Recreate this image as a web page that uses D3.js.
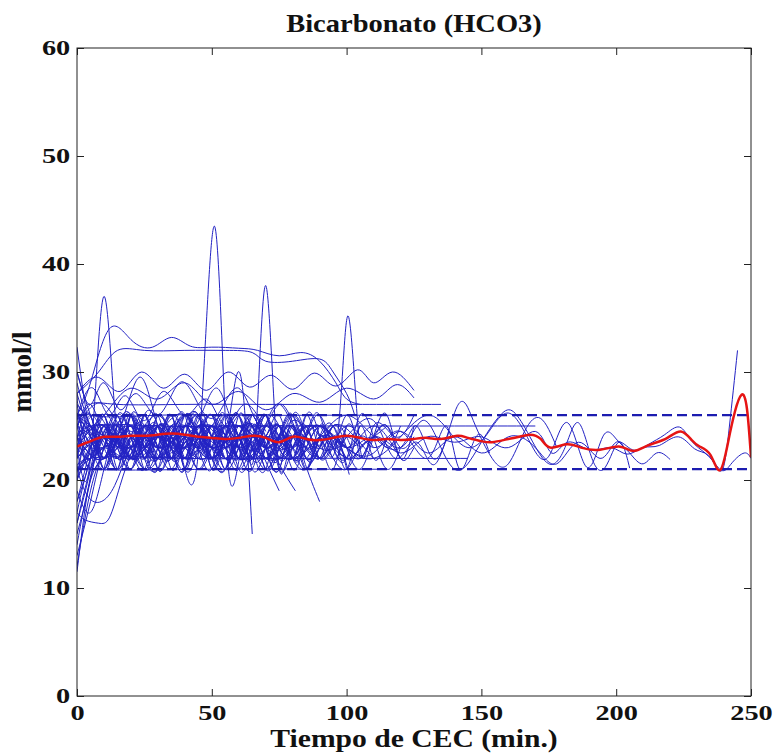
<!DOCTYPE html>
<html>
<head>
<meta charset="utf-8">
<script src="https://cdn.jsdelivr.net/npm/d3@7"></script>
<style>
  body { margin: 0; background: #fff; }
</style>
</head>
<body>
<div id="chart"></div>
<script>
// --- data ------------------------------------------------------------
var xTicks = [0, 50, 100, 150, 200, 250];
var yTicks = [0, 10, 20, 30, 40, 50, 60];
var titleText = 'Bicarbonato (HCO3)';
var xLabel = 'Tiempo de CEC (min.)';
var yLabel = 'mmol/l';

// patient curves sampled every 5 min (first value at t = 0)
var sampleStep = 5;
var bandCurves = [
  [20,23,25,22,24,26,23,22,25,24,22,24,26,23,24,25,22,23,25,24,23,24,25,24,22],
  [16,21,24,26,23,25,22,24,26,24,22,25,23,24,26,23,22,24,25,23,24],
  [24,22,25,23,21,24,26,22,23,25,24,21,23,25,22,24,26,23,24],
  [27,25,22,24,25,23,26,24,22,23,25,26,24,22,24,25,23,21,24,25,22,23,24,25],
  [12,19,23,25,22,24,23,25,24,22,23,26,24,22,23,25,24],
  [30,26,23,21,23,24,22,25,23,24,26,23,21,24,23,25,22,24,26,23,22,24,23],
  [22,25,21,24,26,23,22,25,24,21,23,25,24,22,23],
  [18,22,26,24,22,25,23,21,24,26,24,23,22,25,23,24,22,21,23,25],
  [25,24,23,26,24,22,25,24,23,25,22,24,25,23,22,24,26,24,23,25,24,22,24,23,25],
  [14,20,22,23,25,23,24,22,26,24,22,23,24,26,23,22,24,25],
  [28,24,22,25,23,21,24,22,25,23,24,22,24],
  [23,26,24,22,23,25,24,26,22,24,25,23,22,24,26,25,23,24,22,24,23,25],
  [21,23,25,24,22,26,23,24,22,25,23,21,24,25,23,24],
  [26,24,22,25,24,23,22,24,25,23,24,26,23,22,25,24,23,25,22,24,23,22,24,25,23,24],
  [19,17,21,24,22,25,23,22,24,23,25,22,24,23,21,23,24,22,23],
  [24,21,23,26,22,24,25,23,21,24,23,25,22,24],
  [29,25,24,22,24,23,25,24,22,25,23,24,22,23,25,24,23,22,24,23,22],
  [22,24,26,23,25,22,24,23,26,24,23,22,24,25,22,24,23],
  [17,22,24,23,21,24,25,22,24,23,25,24,21,23,24,26,22,23,25,24,23],
  [25,27,24,23,25,22,23,26,24,22,24,25,23,22,24,23,25,22,24],
  [13,18,23,24,22,23,25,24,22,24,26,23,24,22,25,23,24,25,22,23,24,23],
  [23,22,24,25,23,21,22,24,23,25,24,22,23,26,24,22,23,25,24,22,21,23,24,25,22,23],
  [22,26,21,25,22,26,21,24,26,22,25,21,26,23,21,25,22,26,24,21,25,23],
  [26,21,25,22,26,23,21,25,22,26,21,24,22,26,23,21,25,22,24],
  [15,20,24,21,26,22,25,21,24,26,22,25,21,23,26,22,24,21,25,23,22,26,24,21,23],
  [24,26,22,24,21,25,23,26,21,24,22,26,23,21,25,24,22],
  [20,25,22,26,24,21,23,26,22,25,21,24,26,22,23,25,21,24,26,22,25],
  [27,23,26,21,24,22,26,23,21,25,22,24,26,21,23,25,22,26,23,24,21,25,22,24],
  [21,24,22,25,26,22,21,24,26,23,21,25,24,22,26,21,23,25],
  [18,23,26,22,24,25,21,23,26,24,22,21,25,23,26,22,24],
  [25,22,24,21,26,24,22,25,21,23,26,22,24,25,21,23,26,24,22,25,23,21,24,26,22,25],
  [23,25,21,24,22,26,25,22,23,21,24,26,22,25,23,21,26,24],
  [16,21,25,23,26,21,24,22,25,26,22,21,24,26,23,22,25,21,24,23,26,22],
  [26,23,21,24,26,22,25,23,21,26,24,22,23,25,21,24,26,22,23,25,21]
];

// patient curves with irregular sample times: [minute, mmol/l]
var flatCurves = [
  [[0,25],[5,27],[15,27],[40,27],[70,27],[100,27],[120,27],[135,27]],
  [[0,28],[5,26],[30,26],[60,26],[90,26],[120,26]],
  [[0,23],[5,25],[30,25],[60,25],[100,25],[140,25],[170,25]],
  [[0,20],[5,22],[40,22],[80,22],[120,22],[145,22]],
  [[0,22],[5,21],[50,21],[90,21],[115,21]]
];

var peakCurves = [
  [[0,23],[5,22],[10,37],[15,24],[20,26],[25,23],[30,25],[35,22],[40,24],[45,26],[50,23],[55,24],[60,22],[65,24]],
  [[0,26],[5,29],[12,34],[20,33],[28,32.3],[35,33.2],[42,32.4],[50,32.3],[60,32.2],[67,32],[75,31.5],[83,31.8],[90,31],[96,29],[100,27.5],[105,27]],
  [[0,28],[8,30],[15,32],[25,32],[40,32],[55,32],[65,31.8],[70,31],[80,31],[90,31.2],[95,30],[100,28],[103,26]],
  [[0,22],[10,24],[20,23],[30,25],[38,23],[45,22.5],[51,43.5],[56,21.5],[62,24],[70,23],[78,25],[85,23],[92,24],[100,22]],
  [[0,24],[10,22],[20,25],[30,23],[40,26],[50,24],[57,22],[62,24],[66,23],[70,38],[74.5,22],[80,24],[88,23],[95,25],[103,24],[110,22]],
  [[0,21],[10,23],[20,22],[30,24],[40,22],[50,25],[60,23],[70,24],[80,22],[88,25],[96,23],[100.5,35.2],[105,23],[110,25],[118,24],[125,26]]
];

var lowCurves = [
  [[0,25],[10,27],[20,24],[30,26],[40,23],[50,25],[55,24],[59,29.5],[62,27],[65,15]],
  [[0,20],[8,24],[15,22],[25,25],[35,23],[45,24],[55,22],[62,25],[70,24],[75,21.5],[81,19]],
  [[0,26],[10,24],[20,26],[30,23],[40,25],[50,22],[60,26],[68,23],[75,19]],
  [[0,23],[10,25],[20,22],[30,24],[40,26],[50,23],[60,25],[70,22],[78,25],[84,22],[90,18]],
  [[0,11.5],[4,19],[8,23],[13,25],[18,22],[25,24],[32,22],[40,25],[50,23],[60,24]],
  [[0,17],[3,16.3],[8,16],[12,16.5],[16,19.5],[21,23],[28,25],[35,22],[45,24],[55,23],[65,25],[72,22]],
  [[0,21],[4,18.5],[9,18],[14,19.5],[19,22.5],[26,24],[35,22],[45,25],[55,23]],
  [[0,32.3],[3,27],[7,23],[12,25],[20,22],[30,24],[40,23],[50,25],[60,22],[70,24]],
  [[0,24],[10,22],[20,25],[30,23],[40,24],[50,22],[60,25],[70,23],[80,25],[90,22],[96,23.5],[101,20.5]]
];

var highCurves = [
  [[0,28],[8,29.5],[16,28.2],[24,30],[32,28.5],[40,29.8],[48,28.3],[56,30],[64,28.6],[72,29.7],[80,28.4],[88,29.9],[96,28.7],[104,30.2],[110,29],[117,30],[125,28.3]],
  [[0,24],[10,26],[20,28.5],[30,27.5],[40,29],[50,27],[60,28.2],[70,26.5],[80,28],[90,27.2],[100,28.5],[110,27.5],[118,28.8],[125,27.6]],
  [[0,24],[8,26],[15,24.5],[23,29.5],[30,25],[38,23],[46,26],[52,28.5],[58,25],[66,23],[74,27],[82,24],[90,22]],
  [[0,26],[6,28.5],[12,26],[18,27.8],[25,25.5],[32,28.2],[40,26],[48,27.5],[55,25],[62,27],[70,24.5]],
  [[0,30],[5,27],[10,29],[16,26.5],[22,28],[30,26],[38,29],[45,27],[52,26],[60,28.5],[68,25],[75,27],[82,24]]
];

var longCurves = [
  [[0,22],[10,24],[20,23],[30,25],[40,22],[50,24],[60,23],[70,25],[80,22],[90,24],[100,23],[110,22.5],[120,24.5],[130,22],[137,25],[142,21],[148,24],[153,22.5]],
  [[0,25],[10,23],[20,24.5],[30,22],[40,25],[50,23],[60,24],[70,22],[80,25.5],[90,23],[100,24],[110,25.5],[118,22],[126,23.5],[133,21.5],[141,26.8],[147,25.5],[154,22],[160,21.5],[166,24.5],[172,25.7],[178,23]],
  [[0,23],[10,25],[20,22],[30,24],[40,23],[50,26],[60,22],[70,24],[80,23],[90,25],[100,22],[110,24],[120,23],[128,25.5],[135,23],[142,20.9],[150,23.5],[157,26],[162,26.3],[168,24],[175,21.5],[181,23],[186,25.3],[191,22],[196,21.2],[201,23.5],[205,21.1]],
  [[0,24],[10,23],[20,25],[30,22],[40,24],[50,25],[60,23],[70,22],[80,24],[90,25],[100,23],[110,22],[120,24],[130,26],[138,24.5],[145,23],[152,24.2],[160,26.2],[168,23.5],[175,22.2],[182,25.3],[189,21.2],[195,24],[200,23.8],[205,22.5],[210,21.5],[215,22.5],[220,21.9]],
  [[0,24],[10,22],[20,25],[30,23],[40,24],[50,22],[60,25],[70,23],[80,24],[90,22],[100,25],[110,23],[120,24.5],[130,22.5],[140,24],[150,22.5],[160,24],[170,23],[178,21.5],[186,23.5],[194,22],[200,23.5],[206,22.8],[212,23.3],[218,24.2],[223.5,24.9],[228,23.6],[233,22.5],[236.5,21.5],[239.5,21],[242,25],[245,32]],
  [[0,21],[10,23],[20,24],[30,22],[40,25],[50,23],[60,24],[70,22],[80,23],[90,25],[100,23],[110,24],[120,22.5],[130,24],[140,23.5],[150,24],[160,23],[170,24.5],[176,22.5],[182,23.5],[190,22.8],[198,23],[204,22.4],[210,23],[216,23.2],[223,24],[229,22.9],[234,22.3],[239,20.9],[243,21.6],[247.5,22.5],[250,22]],
  [[0,26],[10,24],[20,23],[30,25],[40,22],[50,24],[60,25],[70,23],[80,22],[90,24],[100,26],[110,24],[120,23],[126,25],[132,22],[138,24.5]]
];

// mean curve (red)
var meanT = [0,3,6,10,15,20,25,30,35,40,45,50,55,60,65,70,75,80,85,90,95,100,105,110,115,120,125,130,135,141,145,150,154,160,164,168,172,175.5,181.5,187,194,201,206,210,214,219,224,228,231,235,238.5,241.5,244,246.5,248.5,250];
var meanV = [23.1,23.4,23.7,24.0,24.0,24.1,24.1,24.2,24.3,24.2,24.0,23.9,23.8,23.9,24.1,23.9,23.5,24.0,23.8,23.7,23.9,24.1,23.9,23.7,23.8,23.7,23.8,23.9,23.8,24.1,23.9,23.6,23.5,23.8,24.0,24.2,23.8,23.0,23.3,23.0,22.8,23.1,22.7,23.0,23.4,23.9,24.5,23.7,23.1,22.3,20.9,23.5,26.3,27.9,26.6,22.1];

// normal range (dashed)
var rangeLimits = [21, 26];
var rangeSpan = [0, 250];

// --- chart ------------------------------------------------------------
var width = 777, height = 756;
var plot = {left: 77, right: 751, top: 48, bottom: 696};
var digitStretch = 1.35; // tick digits in the picture are drawn wide
var labelStretch = 1.14;
var serif = '"Liberation Serif", "Times New Roman", serif';

var x = d3.scaleLinear().domain([0, 250]).range([plot.left, plot.right]);
var y = d3.scaleLinear().domain([0, 60]).range([plot.bottom, plot.top]);

var svg = d3.select('#chart').append('svg')
  .attr('width', width)
  .attr('height', height)
  .style('font-family', serif);

svg.append('defs').append('clipPath').attr('id', 'plotClip')
  .append('rect')
  .attr('x', plot.left).attr('y', plot.top)
  .attr('width', plot.right - plot.left)
  .attr('height', plot.bottom - plot.top);

var line = d3.line()
  .curve(d3.curveNatural)
  .x(function(d) { return x(d[0]); })
  .y(function(d) { return y(d[1]); });

var curves = bandCurves.map(function(vals) {
  return vals.map(function(v, i) { return [i * sampleStep, v]; });
}).concat(flatCurves, peakCurves, lowCurves, highCurves, longCurves);

var gData = svg.append('g').attr('clip-path', 'url(#plotClip)');

gData.append('g').classed('patients', true)
  .selectAll('path').data(curves)
  .enter().append('path')
  .attr('d', line)
  .attr('fill', 'none')
  .attr('stroke', '#2222c4')
  .attr('stroke-width', 1);

gData.append('g').classed('range', true)
  .selectAll('line').data(rangeLimits)
  .enter().append('line')
  .attr('x1', x(rangeSpan[0])).attr('x2', x(rangeSpan[1]))
  .attr('y1', function(d) { return y(d); })
  .attr('y2', function(d) { return y(d); })
  .attr('stroke', '#1c1cb0')
  .attr('stroke-width', 2.2)
  .attr('stroke-dasharray', '10,5');

var meanPts = meanT.map(function(t, i) { return [t, meanV[i]]; });
gData.append('path').datum(meanPts)
  .attr('d', line)
  .attr('fill', 'none')
  .attr('stroke', '#e61414')
  .attr('stroke-width', 2.5);

// axes (ticks point inward, MATLAB style)
function styleAxis(g) {
  g.select('.domain').remove();
  g.selectAll('.tick line').attr('stroke', '#222');
  g.attr('font-family', serif).attr('font-size', 21).attr('font-weight', 'bold');
  g.selectAll('text').attr('fill', '#111');
}

var gx = svg.append('g')
  .attr('transform', 'translate(0,' + plot.bottom + ')')
  .call(d3.axisBottom(x).tickValues(xTicks).tickSizeInner(-7).tickSizeOuter(0).tickPadding(9));
styleAxis(gx);
gx.selectAll('text').attr('transform', 'scale(' + digitStretch + ',1)');

var gy = svg.append('g')
  .attr('transform', 'translate(' + plot.left + ',0)')
  .call(d3.axisLeft(y).tickValues(yTicks).tickSizeInner(-7).tickSizeOuter(0).tickPadding(5));
styleAxis(gy);
gy.selectAll('text').attr('transform', 'scale(' + digitStretch + ',1)');

var gTop = svg.append('g')
  .attr('transform', 'translate(0,' + plot.top + ')')
  .call(d3.axisTop(x).tickValues(xTicks).tickSizeInner(-7).tickSizeOuter(0).tickFormat(''));
styleAxis(gTop);

var gRight = svg.append('g')
  .attr('transform', 'translate(' + plot.right + ',0)')
  .call(d3.axisRight(y).tickValues(yTicks).tickSizeInner(-7).tickSizeOuter(0).tickFormat(''));
styleAxis(gRight);

svg.append('rect')
  .attr('x', plot.left).attr('y', plot.top)
  .attr('width', plot.right - plot.left)
  .attr('height', plot.bottom - plot.top)
  .attr('fill', 'none')
  .attr('stroke', '#222')
  .attr('stroke-width', 1);

// titles
var midX = (plot.left + plot.right) / 2;
svg.append('text')
  .attr('transform', 'translate(' + midX + ',32) scale(' + labelStretch + ',1)')
  .attr('text-anchor', 'middle')
  .attr('font-size', 25)
  .attr('font-weight', 'bold')
  .attr('fill', '#111')
  .text(titleText);

svg.append('text')
  .attr('transform', 'translate(' + midX + ',747) scale(' + labelStretch + ',1)')
  .attr('text-anchor', 'middle')
  .attr('font-size', 26)
  .attr('font-weight', 'bold')
  .attr('fill', '#111')
  .text(xLabel);

svg.append('text')
  .attr('transform', 'translate(31,' + (plot.top + plot.bottom) / 2 + ') rotate(-90)')
  .attr('text-anchor', 'middle')
  .attr('font-size', 27)
  .attr('font-weight', 'bold')
  .attr('fill', '#111')
  .text(yLabel);
</script>
</body>
</html>
